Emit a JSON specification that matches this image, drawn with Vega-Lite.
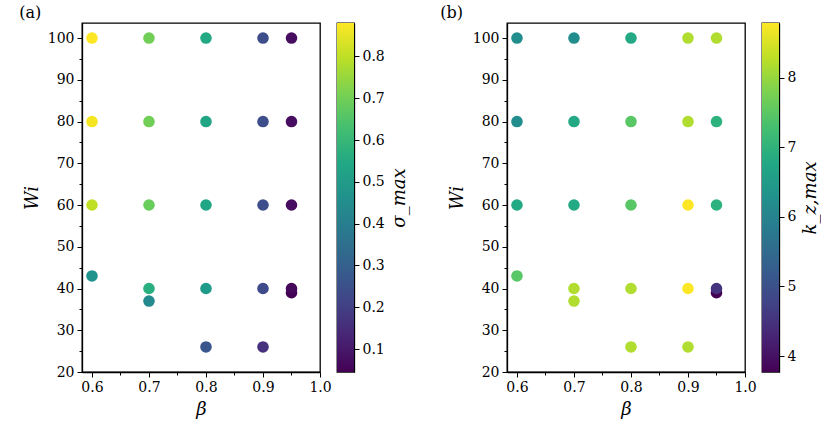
{
  "$schema": "https://vega.github.io/schema/vega-lite/v6.json",
  "padding": {"left": 18, "top": 4, "right": 0, "bottom": 0},
  "data": {
    "values": [
      {"beta": 0.6, "wi": 100, "sigma": 0.88, "kz": 6.2},
      {"beta": 0.6, "wi": 80, "sigma": 0.87, "kz": 6.2},
      {"beta": 0.6, "wi": 60, "sigma": 0.8, "kz": 6.8},
      {"beta": 0.6, "wi": 43, "sigma": 0.47, "kz": 7.5},
      {"beta": 0.7, "wi": 100, "sigma": 0.7, "kz": 6.2},
      {"beta": 0.7, "wi": 80, "sigma": 0.7, "kz": 6.8},
      {"beta": 0.7, "wi": 60, "sigma": 0.69, "kz": 6.8},
      {"beta": 0.7, "wi": 40, "sigma": 0.57, "kz": 8.2},
      {"beta": 0.7, "wi": 37, "sigma": 0.44, "kz": 8.2},
      {"beta": 0.8, "wi": 100, "sigma": 0.55, "kz": 6.8},
      {"beta": 0.8, "wi": 80, "sigma": 0.54, "kz": 7.5},
      {"beta": 0.8, "wi": 60, "sigma": 0.54, "kz": 7.5},
      {"beta": 0.8, "wi": 40, "sigma": 0.5, "kz": 8.2},
      {"beta": 0.8, "wi": 26, "sigma": 0.27, "kz": 8.2},
      {"beta": 0.9, "wi": 100, "sigma": 0.24, "kz": 8.2},
      {"beta": 0.9, "wi": 80, "sigma": 0.24, "kz": 8.2},
      {"beta": 0.9, "wi": 60, "sigma": 0.24, "kz": 8.79},
      {"beta": 0.9, "wi": 40, "sigma": 0.23, "kz": 8.78},
      {"beta": 0.9, "wi": 26, "sigma": 0.16, "kz": 8.2},
      {"beta": 0.95, "wi": 100, "sigma": 0.07, "kz": 8.2},
      {"beta": 0.95, "wi": 80, "sigma": 0.07, "kz": 7.0},
      {"beta": 0.95, "wi": 60, "sigma": 0.07, "kz": 7.0},
      {"beta": 0.95, "wi": 39, "sigma": 0.045, "kz": 3.77},
      {"beta": 0.95, "wi": 40, "sigma": 0.06, "kz": 4.5}
    ]
  },
  "spacing": 30,
  "hconcat": [
    {
      "spacing": 4,
      "hconcat": [
        {
          "width": 238,
          "height": 349,
          "title": {"text": "(a)", "anchor": "start", "frame": "bounds", "offset": 2, "dx": -4},
          "mark": {"type": "circle", "size": 135, "opacity": 1},
          "encoding": {
            "x": {
              "field": "beta", "type": "quantitative", "title": "β",
              "scale": {"domain": [0.5825, 1.0], "nice": false, "zero": false},
              "axis": {
                "values": [0.6, 0.65, 0.7, 0.75, 0.8, 0.85, 0.9, 0.95, 1.0],
                "labelExpr": "abs(datum.value * 10 - round(datum.value * 10)) < 0.01 ? format(datum.value, '.1f') : ''",
                "tickSize": {"condition": {"test": "abs(datum.value * 10 - round(datum.value * 10)) < 0.01", "value": 5}, "value": 3}
              }
            },
            "y": {
              "field": "wi", "type": "quantitative", "title": "Wi",
              "scale": {"domain": [20, 103.6], "nice": false, "zero": false},
              "axis": {
                "values": [20, 25, 30, 35, 40, 45, 50, 55, 60, 65, 70, 75, 80, 85, 90, 95, 100],
                "labelExpr": "datum.value % 10 == 0 ? datum.label : ''",
                "tickSize": {"condition": {"test": "datum.value % 10 == 0", "value": 5}, "value": 3}
              }
            },
            "color": {
              "field": "sigma", "type": "quantitative",
              "scale": {"scheme": "viridis", "domain": [0.045, 0.88]},
              "legend": null
            }
          }
        },
        {
          "width": 17,
          "height": 349,
          "mark": {
            "type": "rect",
            "color": {
              "gradient": "linear", "x1": 0, "y1": 1, "x2": 0, "y2": 0,
              "stops": [
                {"offset": 0.0, "color": "#440154"},
                {"offset": 0.1, "color": "#482475"},
                {"offset": 0.2, "color": "#414487"},
                {"offset": 0.3, "color": "#355f8d"},
                {"offset": 0.4, "color": "#2a788e"},
                {"offset": 0.5, "color": "#21918c"},
                {"offset": 0.6, "color": "#22a884"},
                {"offset": 0.7, "color": "#44bf70"},
                {"offset": 0.8, "color": "#7ad151"},
                {"offset": 0.9, "color": "#bddf26"},
                {"offset": 1.0, "color": "#fde725"}
              ]
            }
          },
          "encoding": {
            "y": {
              "aggregate": "min", "field": "sigma", "type": "quantitative", "title": "σ_max",
              "scale": {"domain": [0.045, 0.88], "nice": false, "zero": false},
              "axis": {"orient": "right", "values": [0.1, 0.2, 0.3, 0.4, 0.5, 0.6, 0.7, 0.8], "format": ".1f", "titleAngle": 270, "titleBaseline": "top", "titlePadding": 6}
            },
            "y2": {"aggregate": "max", "field": "sigma"}
          }
        }
      ]
    },
    {
      "spacing": 4,
      "hconcat": [
        {
          "width": 238,
          "height": 349,
          "title": {"text": "(b)", "anchor": "start", "frame": "bounds", "offset": 2, "dx": -8},
          "mark": {"type": "circle", "size": 135, "opacity": 1},
          "encoding": {
            "x": {
              "field": "beta", "type": "quantitative", "title": "β",
              "scale": {"domain": [0.5825, 1.0], "nice": false, "zero": false},
              "axis": {
                "values": [0.6, 0.65, 0.7, 0.75, 0.8, 0.85, 0.9, 0.95, 1.0],
                "labelExpr": "abs(datum.value * 10 - round(datum.value * 10)) < 0.01 ? format(datum.value, '.1f') : ''",
                "tickSize": {"condition": {"test": "abs(datum.value * 10 - round(datum.value * 10)) < 0.01", "value": 5}, "value": 3}
              }
            },
            "y": {
              "field": "wi", "type": "quantitative", "title": "Wi",
              "scale": {"domain": [20, 103.6], "nice": false, "zero": false},
              "axis": {
                "values": [20, 25, 30, 35, 40, 45, 50, 55, 60, 65, 70, 75, 80, 85, 90, 95, 100],
                "labelExpr": "datum.value % 10 == 0 ? datum.label : ''",
                "tickSize": {"condition": {"test": "datum.value % 10 == 0", "value": 5}, "value": 3}
              }
            },
            "color": {
              "field": "kz", "type": "quantitative",
              "scale": {"scheme": "viridis", "domain": [3.77, 8.79]},
              "legend": null
            }
          }
        },
        {
          "width": 17,
          "height": 349,
          "mark": {
            "type": "rect",
            "color": {
              "gradient": "linear", "x1": 0, "y1": 1, "x2": 0, "y2": 0,
              "stops": [
                {"offset": 0.0, "color": "#440154"},
                {"offset": 0.1, "color": "#482475"},
                {"offset": 0.2, "color": "#414487"},
                {"offset": 0.3, "color": "#355f8d"},
                {"offset": 0.4, "color": "#2a788e"},
                {"offset": 0.5, "color": "#21918c"},
                {"offset": 0.6, "color": "#22a884"},
                {"offset": 0.7, "color": "#44bf70"},
                {"offset": 0.8, "color": "#7ad151"},
                {"offset": 0.9, "color": "#bddf26"},
                {"offset": 1.0, "color": "#fde725"}
              ]
            }
          },
          "encoding": {
            "y": {
              "aggregate": "min", "field": "kz", "type": "quantitative", "title": "k_z,max",
              "scale": {"domain": [3.77, 8.79], "nice": false, "zero": false},
              "axis": {"orient": "right", "values": [4, 5, 6, 7, 8], "format": "d", "titleAngle": 270, "titleBaseline": "top", "titlePadding": 6}
            },
            "y2": {"aggregate": "max", "field": "kz"}
          }
        }
      ]
    }
  ],
  "resolve": {"scale": {"color": "independent", "y": "independent"}},
  "config": {
    "font": "DejaVu Serif",
    "view": {"stroke": "black", "strokeWidth": 1.3},
    "title": {"font": "DejaVu Serif", "fontSize": 16, "fontWeight": "normal", "color": "black"},
    "axis": {
      "grid": false,
      "domainColor": "black",
      "domainWidth": 1.3,
      "tickColor": "black",
      "tickWidth": 1,
      "tickSize": 5,
      "labelFont": "DejaVu Serif",
      "labelColor": "black",
      "labelFontSize": 14,
      "labelPadding": 3,
      "labelFlush": false,
      "labelOverlap": false,
      "titleFont": "DejaVu Serif",
      "titleColor": "black",
      "titleFontSize": 18,
      "titleFontWeight": "normal",
      "titleFontStyle": "italic",
      "titlePadding": 6
    }
  }
}
